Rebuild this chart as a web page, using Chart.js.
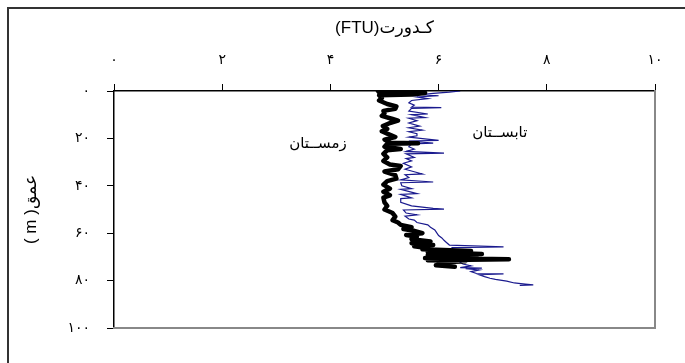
<!DOCTYPE html>
<html>
<head>
<meta charset="utf-8">
<script src="https://cdn.jsdelivr.net/npm/chart.js@4/dist/chart.umd.min.js"></script>
<style>
  body { margin: 0; background: #fff; }
  #wrap { position: relative; width: 685px; height: 363px; overflow: hidden; }
  #frame { position: absolute; left: 7px; top: 7px; width: 720px; height: 420px;
           border-left: 2px solid #333; border-top: 2px solid #333; }
  canvas { position: absolute; left: 0; top: 0; }
</style>
</head>
<body>
<div id="wrap">
  <div id="frame"></div>
  <canvas id="turbidityChart" width="685" height="363"></canvas>
</div>
<script>
// tick labels (Persian digits)
const xTickLabels = ['۰', '۲', '۴', '۶', '۸', '۱۰'];
const yTickLabels = ['۰', '۲۰', '۴۰', '۶۰', '۸۰', '۱۰۰'];

// summer profile: depth (m) and turbidity (FTU)
const summerDepth = [0, 0.5, 1.0, 1.5, 2.0, 2.5, 3.2, 4.0, 5.0, 6.0, 6.8, 7.0, 7.3, 8.5, 9.7, 10.0,
  11.2, 11.5, 12.5, 13.5, 14.8, 15.5, 16.5, 17.2, 18.0, 18.9, 19.5, 20.8, 21.1, 22.0, 22.3, 23.5,
  24.5, 25.5, 26.2, 26.5, 28.0, 28.5, 29.5, 30.5, 32.0, 33.0, 35.0, 35.3, 36.5, 37.5, 38.4, 38.7,
  40.0, 41.2, 41.5, 43.3, 43.6, 45.1, 45.4, 47.0, 48.5, 49.5, 49.8, 50.2, 51.5, 52.3, 52.8, 54.0,
  54.5, 55.5, 56.5, 57.5, 58.6, 60.0, 61.0, 62.0, 63.0, 64.0, 65.0, 65.8, 66.1, 67.5, 69.0, 70.5,
  72.0, 73.0, 73.8, 74.5, 74.7, 75.0, 75.5, 76.2, 77.0, 77.2, 77.5, 78.3, 79.0, 79.5, 80.2, 81.0,
  81.5, 81.8, 82.0];
const summerFTU = [6.4, 6.2, 5.9, 5.7, 6.0, 5.6, 5.8, 5.5, 5.45, 5.55, 5.5, 6.05, 5.5, 5.45, 5.8, 5.5,
  5.75, 5.45, 5.6, 5.45, 5.65, 5.45, 5.7, 5.45, 5.6, 5.6, 5.45, 6.0, 5.45, 5.9, 5.5, 5.45,
  5.55, 5.4, 6.1, 5.4, 5.55, 5.4, 5.5, 5.35, 5.5, 5.38, 5.7, 5.38, 5.45, 5.3, 5.9, 5.3,
  5.32, 5.5, 5.3, 5.6, 5.3, 5.5, 5.3, 5.3, 5.5, 5.9, 6.1, 5.35, 5.4, 5.6, 5.38, 5.45,
  5.55, 5.6, 5.8, 5.85, 5.93, 5.97, 6.0, 6.06, 6.1, 6.15, 6.2, 7.2, 6.25, 6.28, 6.3, 6.34,
  6.38, 6.45, 6.6, 6.4, 6.8, 6.5, 6.75, 6.6, 6.7, 7.2, 6.75, 6.85, 6.95, 7.05, 7.26, 7.4,
  7.6, 7.75, 7.5];

// winter profile: depth (m) and turbidity (FTU)
const winterDepth = [0.0, 0.6, 0.8, 1.5, 1.8, 3.0, 4.0, 5.5, 6.5, 7.5, 8.4, 9.5, 10.5, 11.8, 12.5, 13.5,
  14.8, 16.0, 17.0, 18.0, 19.4, 20.5, 21.8, 22.0, 22.3, 23.5, 24.5, 25.0, 26.5, 28.0, 29.5, 31.0,
  31.6, 33.0, 34.0, 35.5, 37.0, 38.0, 39.5, 41.2, 42.5, 44.0, 45.0, 47.0, 48.5, 50.0, 51.5, 53.0,
  54.5, 55.5, 56.5, 57.5, 58.2, 59.0, 60.0, 60.8, 61.5, 62.5, 63.5, 64.2, 65.0, 65.5, 66.2, 66.8,
  67.5, 68.0, 68.8, 69.2, 70.0, 70.5, 71.0, 71.4, 71.8, 72.4, 73.0, 73.5, 74.2];
const winterFTU = [4.88, 4.9, 5.75, 5.5, 4.9, 4.95, 4.9, 5.05, 5.22, 5.2, 4.98, 5.0, 4.95, 5.15, 5.25, 5.1,
  4.97, 5.05, 4.95, 5.05, 5.2, 5.0, 5.1, 5.62, 5.05, 5.0, 5.3, 5.05, 4.98, 5.05, 4.98, 5.1,
  5.3, 5.25, 5.0, 5.2, 5.22, 5.05, 4.98, 5.1, 4.98, 5.1, 4.98, 5.0, 5.05, 5.0, 5.15, 5.2,
  5.15, 5.25, 5.3, 5.5, 5.35, 5.55, 5.7, 5.4, 5.6, 5.5, 5.85, 5.5, 5.9, 5.55, 5.75, 5.7,
  6.6, 5.8, 6.8, 5.8, 6.7, 5.75, 7.3, 5.8, 6.5, 6.0, 6.2, 5.95, 6.3];

const seriesLabels = ['زمســتان', 'تابســتان'];
const xTitle = '(FTU)کـدورت';
const yTitle = '( m )عمق';

const toPoints = (depth, vals) => depth.map((d, i) => ({ x: vals[i], y: d }));

const fontFamily = "'Liberation Sans', 'DejaVu Sans', sans-serif";

// seasonal labels written inside the plot
const seasonLabels = {
  id: 'seasonLabels',
  afterDatasetsDraw(chart) {
    const { ctx, scales } = chart;
    ctx.save();
    ctx.fillStyle = '#000';
    ctx.font = "15px 'DejaVu Sans', sans-serif";
    ctx.textAlign = 'center';
    ctx.textBaseline = 'middle';
    ctx.fillText(seriesLabels[0], scales.x.getPixelForValue(3.77), scales.y.getPixelForValue(22.4));
    ctx.fillText(seriesLabels[1], scales.x.getPixelForValue(7.13), scales.y.getPixelForValue(17.7));
    ctx.restore();
  }
};

const ctx = document.getElementById('turbidityChart').getContext('2d');
new Chart(ctx, {
  type: 'scatter',
  data: {
    datasets: [{
      label: seriesLabels[0],
      data: toPoints(winterDepth, winterFTU),
      showLine: true,
      borderColor: '#000',
      borderWidth: 4.5,
      borderJoinStyle: 'round',
      borderCapStyle: 'round',
      pointRadius: 0,
      tension: 0
    }, {
      label: seriesLabels[1],
      data: toPoints(summerDepth, summerFTU),
      showLine: true,
      borderColor: '#1a1a8e',
      borderWidth: 1.2,
      pointRadius: 0,
      tension: 0
    }]
  },
  options: {
    responsive: false,
    animation: false,
    layout: { padding: { left: 10, top: 8, right: 30, bottom: 35 } },
    plugins: {
      legend: { display: false },
      tooltip: { enabled: false }
    },
    scales: {
      x: {
        position: 'top',
        min: 0, max: 10,
        afterFit: s => { s.height = 83; },
        ticks: {
          stepSize: 2, padding: 15, color: '#000',
          font: { family: fontFamily, size: 14 },
          callback: v => xTickLabels[Math.round(v / 2)]
        },
        grid: { drawOnChartArea: false, drawTicks: true, tickLength: 7, color: '#000' },
        border: { color: '#000', width: 1.5 },
        title: {
          display: true, text: xTitle, color: '#000',
          font: { family: fontFamily, size: 17 },
          padding: { top: 10, bottom: 0 }
        }
      },
      y: {
        reverse: true,
        min: 0, max: 100,
        afterFit: s => { s.width = 104; },
        ticks: {
          stepSize: 20, padding: 17, color: '#000',
          font: { family: fontFamily, size: 14 },
          callback: v => yTickLabels[Math.round(v / 20)]
        },
        grid: { drawOnChartArea: false, drawTicks: true, tickLength: 7, color: '#000' },
        border: { color: '#000', width: 1.5 },
        title: {
          display: true, text: yTitle, color: '#000',
          font: { family: fontFamily, size: 17 },
          padding: { top: 11, bottom: 0 }
        }
      },
      x2: {
        position: 'bottom',
        afterFit: s => { s.height = 0; },
        ticks: { display: false },
        grid: { display: false },
        border: { color: '#888', width: 2 }
      },
      y2: {
        position: 'right',
        afterFit: s => { s.width = 0; },
        ticks: { display: false },
        grid: { display: false },
        border: { color: '#888', width: 2 }
      }
    }
  },
  plugins: [seasonLabels]
});
</script>
</body>
</html>
